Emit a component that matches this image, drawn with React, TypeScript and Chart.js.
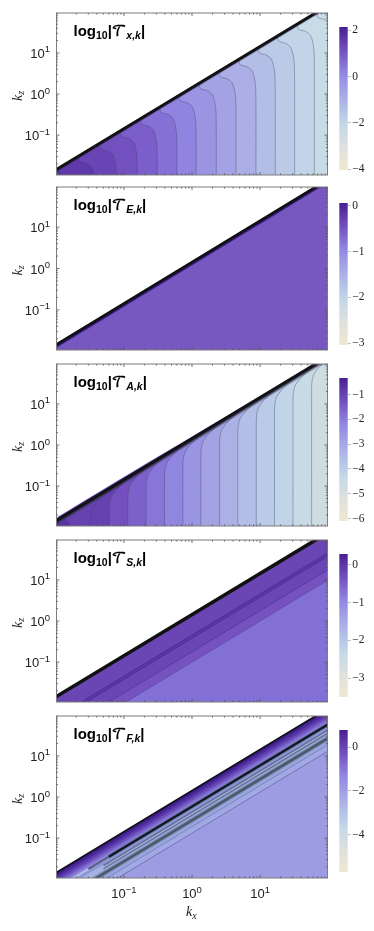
import React, { useEffect, useRef } from "react";
import { Chart, registerables } from "chart.js";
Chart.register(...registerables);

// ---- axes ----
const kRange = [0.01023, 97.7];
const kzRange = [0.01072, 93.3];
const majorTicks = [0.1, 1, 10];
const minorTicks = [0.02,0.03,0.04,0.05,0.06,0.07,0.08,0.09,0.2,0.3,0.4,0.5,0.6,0.7,0.8,0.9,2,3,4,5,6,7,8,9,20,30,40,50,60,70,80,90];
const tickExponents = ["−1", "0", "1"];
const diagonalRatio = 1.43;

// ---- colour map (top of the colourbar to the bottom) ----
const cmapStops = [0, 0.08, 0.2, 0.33, 0.5, 0.68, 0.85, 1];
const cmapColors = ["#4a1f90", "#5e38a8", "#7a5cc6", "#9488e2", "#aab0e6", "#c2d8e8", "#dfe1dc", "#f0e7d3"];

// ---- contour positions (kx where each contour meets the bottom) ----
const txContourKx = [0.0198, 0.0385, 0.0785, 0.158, 0.31, 0.6, 1.15, 2.27, 4.43, 8.69, 16.7, 32.1, 62.7, 121];
const txBandColors = ["#5b34a6", "#5f38aa", "#6944b4", "#7350bf", "#7c5eca", "#8570d6", "#9084e0", "#9a94e3", "#a2a2e4", "#acafe5", "#b4bde6", "#bbcae7", "#c2d5e8", "#c8dce8", "#cbdde6"];
const taContourKx = [0.0326, 0.0611, 0.114, 0.212, 0.394, 0.735, 1.35, 2.54, 4.71, 8.79, 16.3, 30.4, 57.1];
const taBandColors = ["#5a34a5", "#6641b0", "#7350bd", "#7d61cb", "#8775d8", "#9086e0", "#9a95e3", "#a3a3e4", "#acb1e5", "#b4bee6", "#bacbe8", "#c0d6e8", "#c8dae4", "#cfdde2"];
const taCornerKx = [0.0105, 0.0129, 0.0148, 0.0162];
const taCornerKz = [0.0175, 0.0166, 0.014, 0.0105];

// shape of a contour's end, as log10 offsets from (kx0, diagonal at kx0)
const txCurlDx = [-0.256, -0.231, -0.132, -0.059, -0.025, -0.006, 0];
const txCurlDz = [-0.256, -0.38, -0.43, -0.527, -0.69, -0.893, -1.38];
const taCurlDx = [0.55, 0.451, 0.304, 0.2, 0.107, 0.03, 0.004, 0];
const taCurlDz = [0.545, 0.42, 0.26, 0.13, -0.024, -0.2, -0.39, -0.6];

// ---- diagonal bands (kz/kx of each band's upper edge) ----
const teRatios = [1.43, 1.25, 1.18];
const teColors = ["#2a1560", "#4a2a96", "#7658c0"];
const tsRatios = [1.43, 0.457, 0.38, 0.178, 0.1];
const tsColors = ["#6a45b4", "#5b36a8", "#6a45b4", "#7552c0", "#8270d6"];
const tsLineColors = ["#111", "#4a2c8c", "#4a2c8c", "#4e3a90", "#5a4ca0"];
const tsLineWidths = [3.6, 0.8, 0.8, 0.8, 0.8];
const tfRatios = [1.43, 1.23, 1.07, 0.93, 0.81, 0.71, 0.59, 0.43, 0.36, 0.272, 0.19, 0.132];
const tfColors = ["#3e1b8c", "#4a2a9a", "#5b3cab", "#6d52bd", "#7f6cd0", "#8f86dc", "#8e96da", "#a3aae6", "#9aa8e0", "#99a5e0", "#a2a8e6", "#9d9ce3"];
const tfLineRatios = [0.59, 0.272, 1.43, 0.59, 0.59, 0.59, 0.43, 0.36, 0.272, 0.19, 0.132];
const tfLineStartKx = [0.06, 0.001, 0.001, 0.06, 0.03, 0.001, 0.05, 0.05, 0.001, 0.001, 0.001];
const tfLineEndKx = [300, 300, 300, 300, 0.06, 0.03, 300, 300, 300, 300, 300];
const tfLineColors = ["rgba(70,85,110,0.4)", "rgba(90,105,120,0.35)", "#101018", "#101820", "rgba(75,90,110,0.8)", "rgba(185,200,230,0.85)", "rgba(90,105,125,0.85)", "rgba(90,105,125,0.85)", "rgba(60,75,85,0.8)", "rgba(90,100,130,0.7)", "rgba(80,85,130,0.8)"];
const tfLineWidths = [4.5, 5, 1.8, 2.4, 2.2, 2, 1.5, 1.3, 2.6, 0.7, 0.7];
const tfPaleRatios = [0.43, 0.36];
const tfPaleEndKx = [0.05, 0.05];
const tfPaleColor = "rgba(170,190,225,0.75)";

// ---- colourbars ----
const cbTicks = [[2, 0, -2, -4], [0, -1, -2, -3], [-1, -2, -3, -4, -5, -6], [0, -1, -2, -3], [0, -2, -4]];
const cbRanges = [[-4.04, 2.14], [-3.04, 0.065], [-6.1, -0.33], [-3.5, 0.29], [-5.7, 0.78]];

const titleSubs = ["x,k", "E,k", "A,k", "S,k", "F,k"];
const panelTops = [12.5, 187.3, 364, 539.7, 715.7];
const panelHeights = [161.5, 162.7, 161.7, 162, 161.3];
const barTops = [26.7, 202.7, 378.3, 554, 730];
const barBottoms = [170, 345, 521, 696.7, 871.7];

const XL = 1e-3, XR = 300, ZB = 1e-3, ZNEAR = 0.0063;
type P = { x: number; y: number };
type Fill = { pts: P[]; color: string; tension?: number };
type Stroke = { pts: P[]; color: string; width: number; tension?: number };

const ratioFill = (r: number, color: string): Fill => ({
  color,
  pts: [{ x: XR, y: r * XR }, { x: XL, y: r * XL }, { x: XL, y: ZB }, { x: XR, y: ZB }],
});
const ratioLine = (r: number, color: string, width: number, xEnd: number = XR, xStart: number = XL): Stroke => ({
  color, width, pts: [{ x: xEnd, y: r * xEnd }, { x: xStart, y: r * xStart }],
});
const curve = (kx0: number, dx: number[], dz: number[]): P[] => {
  const pts = dx
    .map((d, i) => ({ x: kx0 * 10 ** d, y: kx0 * diagonalRatio * 10 ** dz[i] }))
    .filter((p) => p.y > ZNEAR);
  pts.push({ x: kx0, y: ZNEAR }, { x: kx0, y: ZB });
  return pts;
};
const contourFill = (c: P[], color: string): Fill => ({
  color,
  tension: 0.3,
  pts: [{ x: XR, y: diagonalRatio * XR }, ...c, { x: XR, y: ZB }],
});

function buildPanel(i: number): { fills: Fill[]; strokes: Stroke[] } {
  const contourLine = "rgba(70,72,105,0.45)";
  if (i === 0 || i === 2) {
    const kxs = i === 0 ? txContourKx : taContourKx;
    const cols = i === 0 ? txBandColors : taBandColors;
    const dx = i === 0 ? txCurlDx : taCurlDx;
    const dz = i === 0 ? txCurlDz : taCurlDz;
    const fills: Fill[] = [ratioFill(diagonalRatio, cols[0])];
    const strokes: Stroke[] = [];
    if (i === 2) {
      const corner = [...taCornerKx.map((x, j) => ({ x, y: taCornerKz[j] })), { x: 0.0162, y: ZNEAR }, { x: 0.0162, y: ZB }];
      fills.push(contourFill(corner, cols[1]));
      strokes.push({ pts: corner, color: contourLine, width: 0.9, tension: 0.3 });
    }
    kxs.forEach((k, j) => {
      const c = curve(k, dx, dz);
      fills.push(contourFill(c, cols[Math.min(j + 1, cols.length - 1)]));
      strokes.push({ pts: c, color: contourLine, width: 0.9, tension: 0.3 });
    });
    if (i === 2) {
      strokes.push(ratioLine(1.22, "rgba(60,60,90,0.35)", 3));
      strokes.push(ratioLine(1.3, "rgba(40,40,60,0.65)", 2.5));
    } else {
      strokes.push(ratioLine(1.3, "rgba(50,35,90,0.4)", 1.6));
    }
    strokes.push(ratioLine(diagonalRatio, "#121216", 3));
    return { fills, strokes };
  }
  if (i === 1) {
    return {
      fills: teRatios.map((r, j) => ratioFill(r, teColors[j])),
      strokes: [ratioLine(diagonalRatio, "#101014", 2.6)],
    };
  }
  if (i === 3) {
    return {
      fills: tsRatios.map((r, j) => ratioFill(r, tsColors[j])),
      strokes: tsRatios.map((r, j) => ratioLine(r, tsLineColors[j], tsLineWidths[j])),
    };
  }
  return {
    fills: tfRatios.map((r, j) => ratioFill(r, tfColors[j])),
    strokes: [
      ...tfLineRatios.map((r, j) => ratioLine(r, tfLineColors[j], tfLineWidths[j], tfLineEndKx[j], tfLineStartKx[j])),
      ...tfPaleRatios.map((r, j) => ratioLine(r, tfPaleColor, 1.6, tfPaleEndKx[j])),
    ],
  };
}

const SANS = '"Liberation Sans", Arial, sans-serif';
const SERIF = '"Liberation Serif", "Times New Roman", serif';

function runs(ctx: CanvasRenderingContext2D, x: number, y: number, items: [string, string, number][]) {
  let cx = x;
  for (const [t, font, dy] of items) {
    ctx.font = font;
    ctx.fillText(t, cx, y + dy);
    cx += ctx.measureText(t).width;
  }
  return cx;
}
function runsWidth(ctx: CanvasRenderingContext2D, items: [string, string, number][]) {
  let w = 0;
  for (const [t, font] of items) {
    ctx.font = font;
    w += ctx.measureText(t).width;
  }
  return w;
}

function Panel({ index }: { index: number }) {
  const ref = useRef<HTMLCanvasElement>(null);
  const top = panelTops[index];
  const h = panelHeights[index];
  const last = index === 4;
  const padTop = 10;
  const bottomH = last ? 50 : 3;
  const W = 330;
  useEffect(() => {
    const { fills, strokes } = buildPanel(index);
    const n = fills.length + strokes.length;
    const datasets: any[] = [];
    fills.forEach((f, j) => datasets.push({
      data: f.pts, fill: "shape", backgroundColor: f.color, borderWidth: 0,
      pointRadius: 0, tension: f.tension ?? 0, clip: 0, order: n - j,
    }));
    strokes.forEach((s, j) => datasets.push({
      data: s.pts, fill: false, borderColor: s.color, borderWidth: s.width,
      pointRadius: 0, tension: s.tension ?? 0, clip: 0, order: n - fills.length - j,
    }));
    const setTicks = (s: any) => {
      s.ticks = [...majorTicks, ...minorTicks].sort((a, b) => a - b).map((v) => ({ value: v, major: majorTicks.includes(v) }));
    };
    const frame = {
      id: "frame",
      afterDatasetsDraw(chart: any) {
        const { ctx, chartArea: a, scales } = chart;
        ctx.save();
        ctx.strokeStyle = "#7d7d7d";
        ctx.lineWidth = 1;
        ctx.strokeRect(a.left, a.top, a.right - a.left, a.bottom - a.top);
        ctx.strokeStyle = "#555";
        ctx.lineWidth = 0.8;
        const mark = (x1: number, y1: number, x2: number, y2: number) => {
          ctx.beginPath(); ctx.moveTo(x1, y1); ctx.lineTo(x2, y2); ctx.stroke();
        };
        for (const v of [...majorTicks, ...minorTicks]) {
          const len = majorTicks.includes(v) ? 3 : 1.6;
          const px = scales.x.getPixelForValue(v);
          const py = scales.y.getPixelForValue(v);
          mark(px, a.bottom, px, a.bottom - len);
          mark(px, a.top, px, a.top + len);
          mark(a.left, py, a.left + len, py);
          mark(a.right, py, a.right - len, py);
        }
        // tick labels
        ctx.fillStyle = "#222";
        ctx.textBaseline = "alphabetic";
        ctx.textAlign = "left";
        majorTicks.forEach((v, j) => {
          const items: [string, string, number][] = [
            ["10", `13px ${SANS}`, 0],
            [tickExponents[j], `9.5px ${SANS}`, -5.5],
          ];
          const w = runsWidth(ctx, items);
          runs(ctx, 50 - w, scales.y.getPixelForValue(v) + 5, items);
          if (last) runs(ctx, scales.x.getPixelForValue(v) - w / 2, a.bottom + 20, items);
        });
        // panel title
        ctx.fillStyle = "#000";
        const by = a.top + 22.5;
        runs(ctx, 73.5, by, [
          ["log", `bold 15px ${SANS}`, 0],
          ["10", `bold 10.5px ${SANS}`, 3],
          ["|", `bold 15px ${SANS}`, 0],
          ["𝒯", `bold 14px "DejaVu Math TeX Gyre", ${SERIF}`, 0],
          [titleSubs[index], `italic bold 10.5px ${SANS}`, 3],
          ["|", `bold 15px ${SANS}`, 0],
        ]);
        // axis titles
        ctx.save();
        ctx.translate(21.5, (a.top + a.bottom) / 2 + 7);
        ctx.rotate(-Math.PI / 2);
        ctx.fillStyle = "#222";
        runs(ctx, 0, 0, [["k", `italic 14px ${SERIF}`, 0], ["z", `italic 10px ${SERIF}`, 2.5]]);
        ctx.restore();
        if (last) {
          ctx.fillStyle = "#222";
          runs(ctx, 186, a.bottom + 38, [["k", `italic 14px ${SERIF}`, 0], ["x", `italic 10px ${SERIF}`, 2.5]]);
        }
        ctx.restore();
      },
    };
    const chart = new Chart(ref.current as HTMLCanvasElement, {
      type: "line",
      data: { datasets },
      plugins: [frame],
      options: {
        animation: false,
        responsive: false,
        events: [],
        layout: { padding: { top: padTop, right: W - 327.5, left: 0, bottom: 0 } },
        plugins: { legend: { display: false }, tooltip: { enabled: false }, title: { display: false } },
        scales: {
          x: {
            type: "logarithmic", min: kRange[0], max: kRange[1],
            afterBuildTicks: setTicks,
            afterFit: (s: any) => { s.height = bottomH; },
            grid: { display: false }, border: { display: false },
            ticks: { display: false, autoSkip: false },
          },
          y: {
            type: "logarithmic", min: kzRange[0], max: kzRange[1],
            afterBuildTicks: setTicks,
            afterFit: (s: any) => { s.width = 56.5; },
            grid: { display: false }, border: { display: false },
            ticks: { display: false, autoSkip: false },
          },
        },
      } as any,
    });
    return () => chart.destroy();
  }, [index]);
  return (
    <canvas
      ref={ref}
      width={W}
      height={Math.ceil(padTop + h + bottomH)}
      style={{ position: "absolute", left: 0, top: top - padTop, width: W, height: Math.ceil(padTop + h + bottomH) }}
    />
  );
}

function ColorBar({ index }: { index: number }) {
  const ref = useRef<HTMLCanvasElement>(null);
  const barTop = barTops[index];
  const barBottom = barBottoms[index];
  const pad = 9;
  const H = Math.round(barBottom - barTop) + pad * 2;
  useEffect(() => {
    const [lo, hi] = cbRanges[index];
    const chart = new Chart(ref.current as HTMLCanvasElement, {
      type: "bar",
      data: {
        labels: ["c"],
        datasets: [{
          data: [[lo, hi]],
          barPercentage: 1,
          categoryPercentage: 1,
          borderWidth: 0,
          backgroundColor: (c: any) => {
            const a = c.chart.chartArea;
            if (!a) return cmapColors[3];
            const g = c.chart.ctx.createLinearGradient(0, a.top, 0, a.bottom);
            cmapStops.forEach((s, i) => g.addColorStop(s, cmapColors[i]));
            return g;
          },
        }],
      },
      options: {
        animation: false,
        responsive: false,
        events: [],
        layout: { padding: { top: pad, bottom: pad, left: 9.3, right: 0 } },
        plugins: { legend: { display: false }, tooltip: { enabled: false } },
        scales: {
          x: { display: false },
          y: {
            position: "right", min: lo, max: hi,
            afterBuildTicks: (s: any) => { s.ticks = cbTicks[index].map((v) => ({ value: v })); },
            afterFit: (s: any) => { s.width = 26.3; },
            grid: { drawOnChartArea: false, tickLength: 3, color: "#bbb" },
            border: { display: false },
            ticks: {
              padding: 1.5, color: "#222",
              font: { family: "Liberation Serif", size: 11.5 },
              callback: (v: any) => String(v).replace("-", "−"),
            },
          },
        },
      } as any,
    });
    return () => chart.destroy();
  }, [index]);
  return (
    <canvas
      ref={ref}
      width={44}
      height={H}
      style={{ position: "absolute", left: 330, top: barTop - pad, width: 44, height: H }}
    />
  );
}

export default function App() {
  return (
    <div style={{ position: "absolute", left: 0, top: 0, width: 374, height: 931, background: "#fff", overflow: "hidden" }}>
      {panelTops.map((_, i) => <Panel key={i} index={i} />)}
      {panelTops.map((_, i) => <ColorBar key={i} index={i} />)}
    </div>
  );
}
